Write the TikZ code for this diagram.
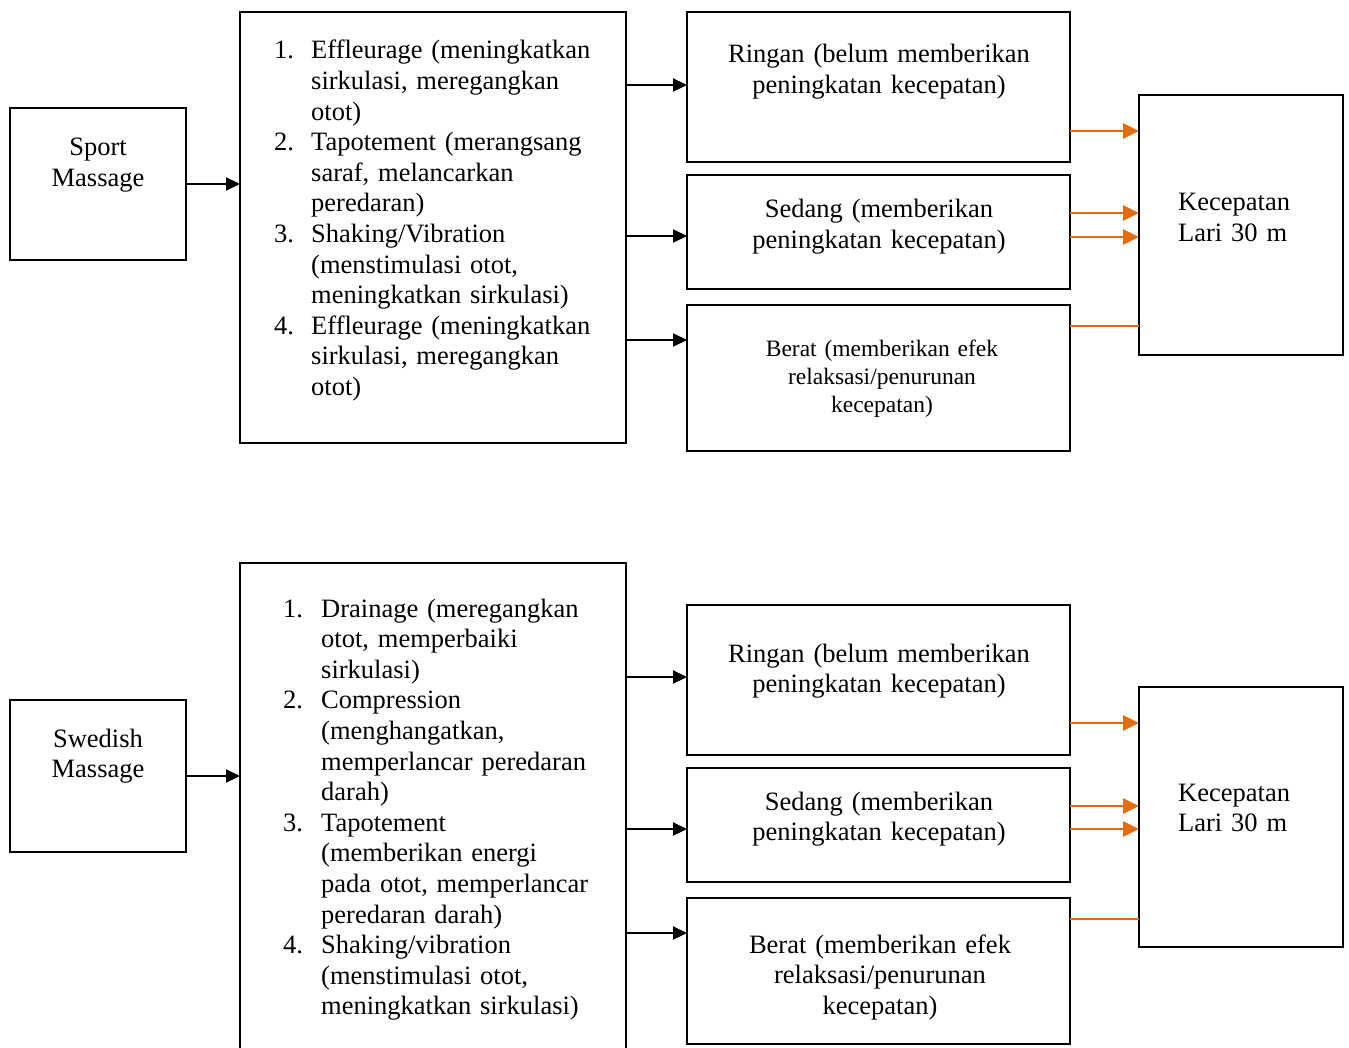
\documentclass[tikz,border=0pt]{standalone}
\usepackage{fontspec}
\setmainfont{Liberation Serif}
\usetikzlibrary{arrows.meta}
\definecolor{arrorange}{RGB}{228,108,10}
\newcommand\numlbl[2]{\leavevmode\llap{\makebox[#1][l]{#2}}}
\begin{document}
\begin{tikzpicture}[x=1pt,y=-1pt,
  box/.style={draw=black, line width=2pt, rectangle, inner sep=0pt, outer sep=0pt, anchor=north west},
  ctext/.style={inner sep=0pt, anchor=base, align=center, text width=380pt, font=\fontsize{26.5}{30.5}\selectfont},
  smalltext/.style={inner sep=0pt, anchor=base, align=center, text width=380pt, font=\fontsize{23.5}{27.5}\selectfont},
  ltext/.style={inner sep=0pt, anchor=base west, align=left, text width=320pt, font=\fontsize{26.5}{30.6}\selectfont},
  blackarrow/.style={draw=black, line width=2.2pt, -{Triangle[length=14pt,width=13pt]}},
  orangearrow/.style={draw=arrorange, line width=2.6pt, -{Triangle[length=16pt,width=15pt]}},
  orangeline/.style={draw=arrorange, line width=1.4pt}]
\useasboundingbox (0,0) rectangle (1349,1048);
\clip (0,0) rectangle (1349,1048);

% ---------------- top section ----------------
\node[box, minimum width=176pt, minimum height=152pt] (sport) at (10,108) {};
\node[box, minimum width=386pt, minimum height=431pt] (listA) at (240,12) {};
\node[box, minimum width=383pt, minimum height=150pt] (ringA) at (687,12) {};
\node[box, minimum width=383pt, minimum height=114pt] (sedA) at (687,175) {};
\node[box, minimum width=383pt, minimum height=146pt] (berA) at (687,305) {};
\node[box, minimum width=204pt, minimum height=260pt] (kecA) at (1139,95) {};

\node[ctext] (sportT) at (98,156) {Sport\\Massage};
\node[ltext] (listAT) at (311,59) {%
\numlbl{37pt}{1.}Effleurage (meningkatkan\\
sirkulasi, meregangkan\\
otot)\\
\numlbl{37pt}{2.}Tapotement (merangsang\\
saraf, melancarkan\\
peredaran)\\
\numlbl{37pt}{3.}Shaking/Vibration\\
(menstimulasi otot,\\
meningkatkan sirkulasi)\\
\numlbl{37pt}{4.}Effleurage (meningkatkan\\
sirkulasi, meregangkan\\
otot)};
\node[ctext] (ringAT) at (879,63) {Ringan (belum memberikan\\peningkatan kecepatan)};
\node[ctext] (sedAT) at (879,218) {Sedang (memberikan\\peningkatan kecepatan)};
\node[smalltext] (berAT) at (882,357) {Berat (memberikan efek\\relaksasi/penurunan\\kecepatan)};
\node[ltext, text width=160pt] (kecAT) at (1178,211) {Kecepatan\\Lari 30 m};

\draw[blackarrow] (sport.east |- 0,184) -- (listA.west |- 0,184);
\draw[blackarrow] (listA.east |- 0,85) -- (ringA.west |- 0,85);
\draw[blackarrow] (listA.east |- 0,236) -- (sedA.west |- 0,236);
\draw[blackarrow] (listA.east |- 0,340) -- (berA.west |- 0,340);

\draw[orangearrow] (ringA.east |- 0,131) -- (kecA.west |- 0,131);
\draw[orangearrow] (sedA.east |- 0,213) -- (kecA.west |- 0,213);
\draw[orangearrow] (sedA.east |- 0,237) -- (kecA.west |- 0,237);
\draw[orangeline] (berA.east |- 0,326) -- (kecA.west |- 0,326);

% ---------------- bottom section ----------------
\node[box, minimum width=176pt, minimum height=152pt] (swed) at (10,700) {};
\node[box, minimum width=386pt, minimum height=500pt] (listB) at (240,563) {};
\node[box, minimum width=383pt, minimum height=150pt] (ringB) at (687,605) {};
\node[box, minimum width=383pt, minimum height=114pt] (sedB) at (687,768) {};
\node[box, minimum width=383pt, minimum height=146pt] (berB) at (687,898) {};
\node[box, minimum width=204pt, minimum height=260pt] (kecB) at (1139,687) {};

\node[ctext] (swedT) at (98,747) {Swedish\\Massage};
\node[ltext] (listBT) at (321,617) {%
\numlbl{38pt}{1.}Drainage (meregangkan\\
otot, memperbaiki\\
sirkulasi)\\
\numlbl{38pt}{2.}Compression\\
(menghangatkan,\\
memperlancar peredaran\\
darah)\\
\numlbl{38pt}{3.}Tapotement\\
(memberikan energi\\
pada otot, memperlancar\\
peredaran darah)\\
\numlbl{38pt}{4.}Shaking/vibration\\
(menstimulasi otot,\\
meningkatkan sirkulasi)};
\node[ctext] (ringBT) at (879,662) {Ringan (belum memberikan\\peningkatan kecepatan)};
\node[ctext] (sedBT) at (879,810) {Sedang (memberikan\\peningkatan kecepatan)};
\node[ctext] (berBT) at (880,953) {Berat (memberikan efek\\relaksasi/penurunan\\kecepatan)};
\node[ltext, text width=160pt] (kecBT) at (1178,801) {Kecepatan\\Lari 30 m};

\draw[blackarrow] (swed.east |- 0,776) -- (listB.west |- 0,776);
\draw[blackarrow] (listB.east |- 0,677) -- (ringB.west |- 0,677);
\draw[blackarrow] (listB.east |- 0,829) -- (sedB.west |- 0,829);
\draw[blackarrow] (listB.east |- 0,933) -- (berB.west |- 0,933);

\draw[orangearrow] (ringB.east |- 0,723) -- (kecB.west |- 0,723);
\draw[orangearrow] (sedB.east |- 0,806) -- (kecB.west |- 0,806);
\draw[orangearrow] (sedB.east |- 0,829) -- (kecB.west |- 0,829);
\draw[orangeline] (berB.east |- 0,919) -- (kecB.west |- 0,919);
\end{tikzpicture}
\end{document}
